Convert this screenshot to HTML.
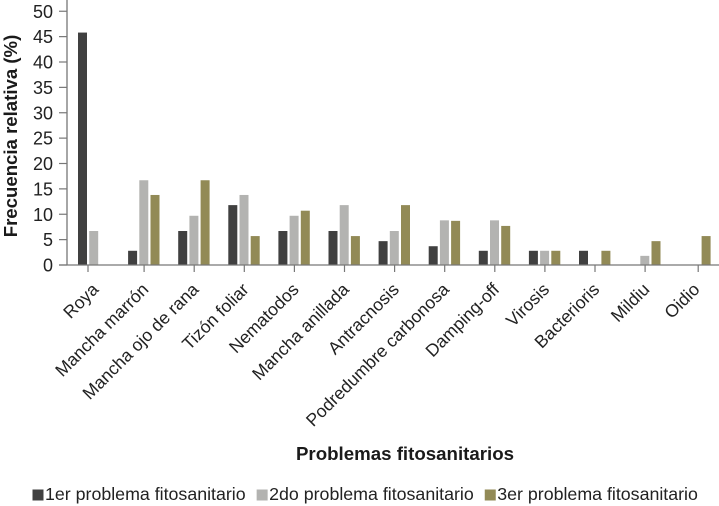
<!DOCTYPE html>
<html lang="es">
<head>
<meta charset="utf-8">
<title>Problemas fitosanitarios</title>
<style>
html,body{margin:0;padding:0;background:#fff;}
svg{display:block;font-family:"Liberation Sans",Arial,sans-serif;}
</style>
</head>
<body>
<svg id="chart" width="719" height="506" viewBox="0 0 719 506" xmlns="http://www.w3.org/2000/svg"></svg>
<script>
const categories = ["Roya","Mancha marrón","Mancha ojo de rana","Tizón foliar","Nematodos","Mancha anillada","Antracnosis","Podredumbre carbonosa","Damping-off","Virosis","Bacterioris","Mildiu","Oidio"];
const seriesNames = ["1er problema fitosanitario","2do problema fitosanitario","3er problema fitosanitario"];
const primero = [45.8,2.8,6.7,11.8,6.7,6.7,4.7,3.7,2.8,2.8,2.8,0,0];
const segundo = [6.7,16.7,9.7,13.8,9.7,11.8,6.7,8.8,8.8,2.8,0,1.8,0];
const tercero = [0,13.8,16.7,5.7,10.7,5.7,11.8,8.7,7.7,2.8,2.8,4.7,5.7];
const yTicks = [0,5,10,15,20,25,30,35,40,45,50];

const seriesValues = [primero, segundo, tercero];
const seriesColors = ["#404040","#b3b3b1","#928a56"];
const NS = "http://www.w3.org/2000/svg";
const svg = document.getElementById("chart");
const TEXT = "#222";
const AXIS = "#777";

function yScale(v){ return 265 - v * 5.075; }
function groupX(i){ return 94 + 50.1 * i; }
function barX(i, s){ return groupX(i) - 16 + 11.2 * s; }
function tickX(i){
  if (i === 0) return groupX(i) - 6;
  if (i === categories.length - 1) return groupX(i) + 3;
  return groupX(i);
}
function add(tag, attrs, text){
  const el = document.createElementNS(NS, tag);
  for (const k in attrs) el.setAttribute(k, attrs[k]);
  if (text !== undefined) el.textContent = text;
  svg.appendChild(el);
  return el;
}

// bars
seriesValues.forEach(function(values, s){
  values.forEach(function(v, i){
    if (v <= 0) return;
    const bar = add("rect", {x: barX(i, s), y: yScale(v), width: 9, height: 265 - yScale(v), fill: seriesColors[s]});
    
    
  });
});

// y axis
const yAxis = add("line", {x1: 67, y1: 0, x2: 67, y2: 265, stroke: AXIS, "stroke-width": 1.3});


yTicks.forEach(function(t){
  const y = yScale(t);
  const tick = add("line", {x1: 59, y1: y, x2: 67, y2: y, stroke: AXIS, "stroke-width": 1.2});
  
  
  const label = add("text", {x: 53, y: y + 6.5, "text-anchor": "end", "font-size": 18, fill: TEXT}, String(t));
  
  
});

// x axis
const xAxis = add("line", {x1: 59, y1: 265, x2: 719, y2: 265, stroke: AXIS, "stroke-width": 1.3});


categories.forEach(function(c, i){
  const x = tickX(i);
  const tick = add("line", {x1: x, y1: 265, x2: x, y2: 272, stroke: AXIS, "stroke-width": 1.2});
  
  
  const lx = groupX(i) + 5.5, ly = 290.5;
  const label = add("text", {x: lx, y: ly, "text-anchor": "end", "font-size": 17.6, fill: TEXT, transform: "rotate(-45 " + lx + " " + ly + ")"}, c);
  
  
});

// titles
const yTitle = add("text", {x: 17, y: 136, "text-anchor": "middle", "font-size": 18.6, "font-weight": "bold", fill: "#1a1a1a", transform: "rotate(-90 17 136)"}, "Frecuencia relativa (%)");


const xTitle = add("text", {x: 405, y: 460, "text-anchor": "middle", "font-size": 18.7, "font-weight": "bold", fill: "#1a1a1a"}, "Problemas fitosanitarios");



// legend: entries flow left to right, each following the previous text
let legendX = 32.5;
seriesNames.forEach(function(name, s){
  const swatch = add("rect", {x: legendX, y: 489.5, width: 11, height: 11, fill: seriesColors[s]});
  
  
  const label = add("text", {x: legendX + 12.5, y: 500, "font-size": 17.8, fill: TEXT}, name);
  
  
  legendX += 12.5 + label.getComputedTextLength() + 11;
});
</script>
</body>
</html>
